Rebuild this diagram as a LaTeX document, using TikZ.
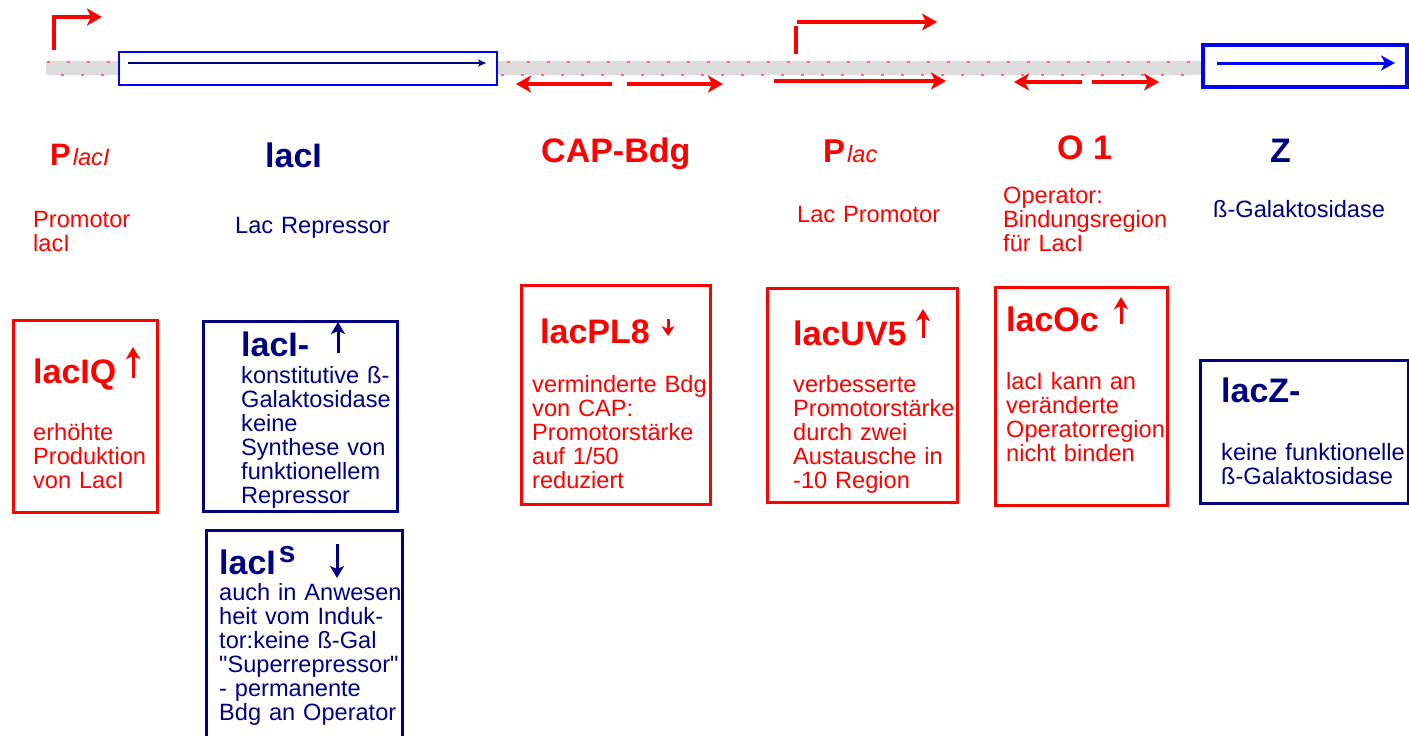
\documentclass[tikz,border=0pt]{standalone}
\usepackage{fontspec}
\setmainfont{Liberation Sans}[Ligatures=TeXOff]
\usetikzlibrary{arrows.meta}
\definecolor{rd}{RGB}{255,0,0}
\definecolor{nv}{RGB}{0,0,128}
\definecolor{bl}{RGB}{0,0,255}
\definecolor{band}{RGB}{221,221,221}
\definecolor{dots}{RGB}{255,110,110}
\tikzset{
  head/.style={anchor=base west, inner sep=0pt, font=\fontsize{34}{36}\selectfont\bfseries},
  desc/.style={anchor=base west, inner sep=0pt, text width=260pt, align=left, font=\fontsize{23.6}{24}\selectfont},
  boxr/.style={draw=rd, line width=3pt, inner sep=0pt},
  boxn/.style={draw=nv, line width=3pt, inner sep=0pt},
  bigarr/.style={line width=4pt, -{Stealth[length=15pt,width=17pt,inset=4pt]}},
  smallarr/.style={line width=3pt, -{Stealth[length=12pt,width=14pt,inset=3pt]}},
  tinyarr/.style={line width=3pt, -{Stealth[length=10pt,width=13pt,inset=3pt]}},
}
\begin{document}
\begin{tikzpicture}[x=1pt,y=-1pt]
\useasboundingbox (0,0) rectangle (1409,736);
% DNA band
\fill[band] (46,61) rectangle (1203,75);
\draw[dots, line width=2pt, dash pattern=on 3pt off 17pt] (47,62) -- (1202,62);
\draw[dots, line width=2pt, dash pattern=on 3pt off 17pt, dash phase=-14pt] (47,75) -- (1202,75);
% gene boxes on the band
\node[draw=bl, line width=2pt, inner sep=0pt, minimum width=378pt, minimum height=33pt, fill=white] (geneI) at (308,68.5) {};
\node[draw=bl, line width=4pt, inner sep=0pt, minimum width=204pt, minimum height=42pt, fill=white] (geneZ) at (1305,66) {};
\coordinate (gIa) at (128,63); \coordinate (gIb) at (486,63);
\draw[nv, line width=1.6pt, -{Stealth[length=8pt,width=7pt,inset=2pt]}] (gIa) -- (gIb);
\coordinate (gZa) at (1217,63); \coordinate (gZb) at (1395,63);
\draw[bl, line width=3pt, -{Stealth[length=14pt,width=15pt,inset=4pt]}] (gZa) -- (gZb);
% promoter arrows
\coordinate (pIa) at (54,50); \coordinate (pIb) at (54,17); \coordinate (pIc) at (102,17);
\draw[rd, bigarr] (pIa) -- (pIb) -- (pIc);
\coordinate (pLa) at (796,54); \coordinate (pLb) at (796,26);
\draw[rd, line width=4pt] (pLa) -- (pLb);
\coordinate (pLc) at (797,22); \coordinate (pLd) at (937,22);
\draw[rd, bigarr] (pLc) -- (pLd);
% CAP arrows
\coordinate (c1a) at (612,84); \coordinate (c1b) at (516,84);
\coordinate (c2a) at (627,84); \coordinate (c2b) at (723,84);
\draw[rd, bigarr] (c1a) -- (c1b);
\draw[rd, bigarr] (c2a) -- (c2b);
% Plac long arrow
\coordinate (la) at (774,81); \coordinate (lb) at (946,81);
\draw[rd, bigarr] (la) -- (lb);
% operator arrows
\coordinate (o1a) at (1082,82); \coordinate (o1b) at (1014,82);
\coordinate (o2a) at (1092,82); \coordinate (o2b) at (1159,82);
\draw[rd, bigarr] (o1a) -- (o1b);
\draw[rd, bigarr] (o2a) -- (o2b);
% headings
\node[anchor=base west, inner sep=0pt, text=rd] (hPI) at (50,165) {{\fontsize{31}{34}\selectfont\bfseries P}\hspace{2pt}{\fontsize{23.6}{24}\selectfont\itshape lacI}};
\node[head, text=nv] (hI) at (265,167) {lacI};
\node[head, text=rd] (hCAP) at (541,162) {CAP-Bdg};
\node[anchor=base west, inner sep=0pt, text=rd] (hPL) at (823,162) {{\fontsize{33}{34}\selectfont\bfseries P}\hspace{2pt}{\fontsize{23.6}{24}\selectfont\itshape lac}};
\node[head, text=rd] (hO) at (1057,159) {O 1};
\node[head, text=nv] (hZ) at (1270,162) {Z};
% descriptions
\node[desc, text=rd] (dPI) at (33,227) {Promotor\\lacI};
\node[desc, text=nv] (dI) at (235,233) {Lac Repressor};
\node[desc, text=rd] (dPL) at (797,222) {Lac Promotor};
\node[desc, text=rd] (dO) at (1003,203) {Operator:\\Bindungsregion\\für LacI};
\node[desc, text=nv] (dZ) at (1213,217) {ß-Galaktosidase};
% mutant boxes
\node[boxr, minimum width=144pt, minimum height=192pt] (bIQ) at (85,416) {};
\node[boxn, minimum width=194pt, minimum height=190pt] (bIm) at (300,416) {};
\node[boxn, minimum width=196pt, minimum height=222pt] (bIs) at (304,641) {};
\node[boxr, minimum width=189pt, minimum height=219pt] (bPL) at (615.5,394.5) {};
\node[boxr, minimum width=190pt, minimum height=214pt] (bUV) at (862,395) {};
\node[boxr, minimum width=172pt, minimum height=218pt] (bOc) at (1081,396) {};
\node[boxn, minimum width=208pt, minimum height=143pt] (bZ) at (1304,431.5) {};
% titles
\node[head, text=rd] (tIQ) at (33,383) {lacIQ};
\node[head, text=nv] (tIm) at (241,356) {lacI-};
\node[head, text=nv] (tIs) at (219,574) {lacI\hspace{3pt}\raisebox{12pt}{\fontsize{30}{30}\selectfont s}};
\node[head, text=rd] (tPL) at (540,343) {lacPL8};
\node[head, text=rd] (tUV) at (793,345) {lacUV5};
\node[head, text=rd] (tOc) at (1006,331) {lacOc};
\node[head, text=nv] (tZ) at (1221,402) {lacZ-};
% effect arrows
\coordinate (aIQa) at (133,378); \coordinate (aIQb) at (133,347);
\draw[rd, smallarr] (aIQa) -- (aIQb);
\coordinate (aIma) at (338,353); \coordinate (aImb) at (338,322);
\draw[nv, smallarr] (aIma) -- (aImb);
\coordinate (aIsa) at (337,544); \coordinate (aIsb) at (337,578);
\draw[nv, smallarr] (aIsa) -- (aIsb);
\coordinate (aPLa) at (668,319); \coordinate (aPLb) at (668,336);
\draw[rd, tinyarr] (aPLa) -- (aPLb);
\coordinate (aUVa) at (923,338); \coordinate (aUVb) at (923,309);
\draw[rd, smallarr] (aUVa) -- (aUVb);
\coordinate (aOca) at (1121,324); \coordinate (aOcb) at (1121,297);
\draw[rd, smallarr] (aOca) -- (aOcb);
% box texts
\node[desc, text=rd] (xIQ) at (33,440) {erhöhte\\Produktion\\von LacI};
\node[desc, text=nv] (xIm) at (241,383) {konstitutive ß-\\Galaktosidase\\keine\\Synthese von\\funktionellem\\Repressor};
\node[desc, text=nv] (xIs) at (219,600) {auch in Anwesen\\heit vom Induk-\\tor:keine ß-Gal\\"Superrepressor"\\- permanente\\Bdg an Operator};
\node[desc, text=rd] (xPL) at (532,392) {verminderte Bdg\\von CAP:\\Promotorstärke\\auf 1/50\\reduziert};
\node[desc, text=rd] (xUV) at (793,392) {verbesserte\\Promotorstärke\\durch zwei\\Austausche in\\-10 Region};
\node[desc, text=rd] (xOc) at (1006,389) {lacI kann an\\veränderte\\Operatorregion\\nicht binden};
\node[desc, text=nv] (xZ) at (1221,460) {keine funktionelle\\ß-Galaktosidase};
\end{tikzpicture}
\end{document}
